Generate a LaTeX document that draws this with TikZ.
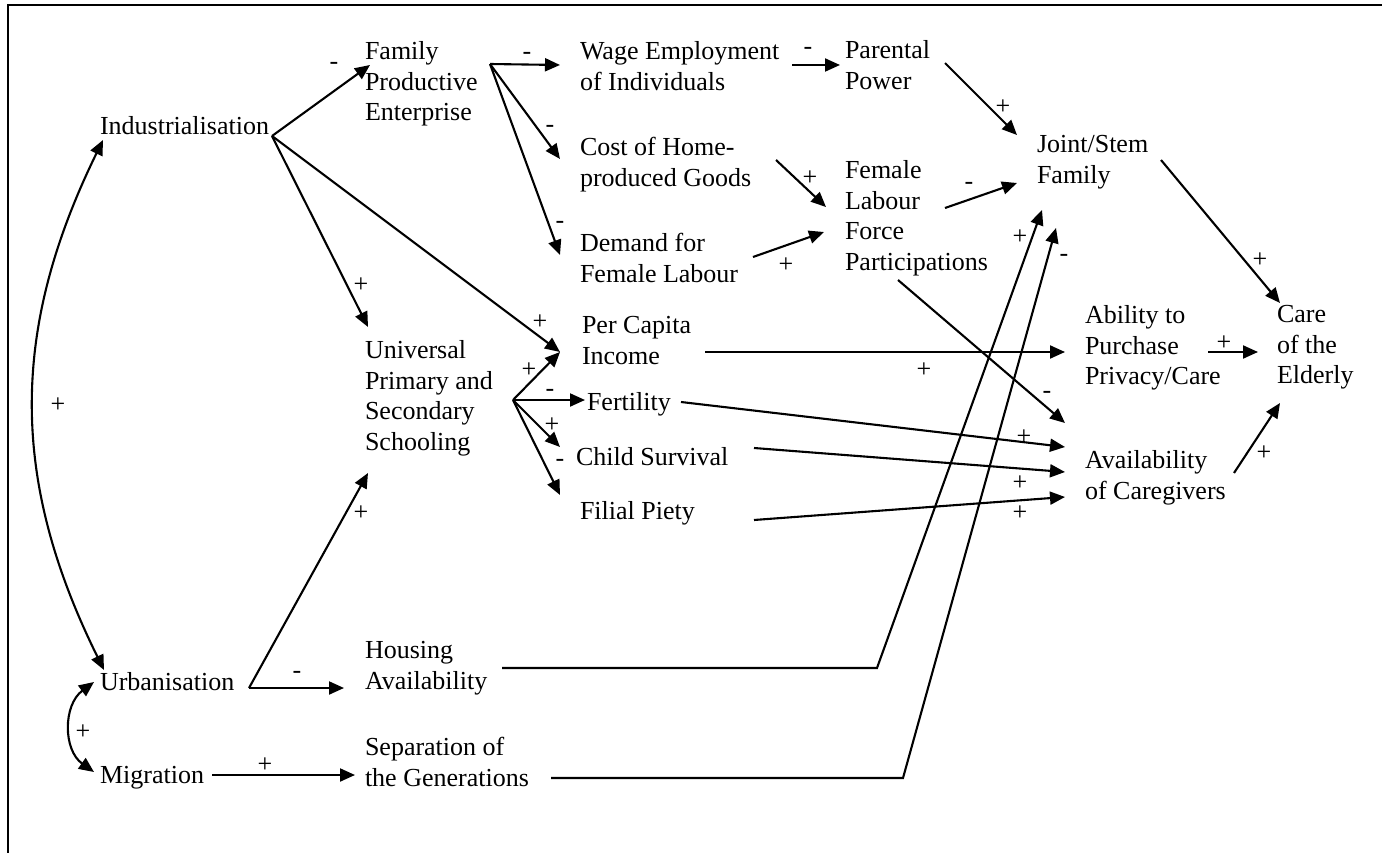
\documentclass[tikz,border=0pt]{standalone}
\usepackage{fontspec}
\setmainfont{Liberation Serif}
\usetikzlibrary{arrows.meta}
\newcommand{\dfont}{\fontsize{26}{30.5}\selectfont}
\begin{document}
\begin{tikzpicture}[x=1pt,y=-1pt,
  txt/.style={anchor=north west, yshift=21.35pt, inner sep=0pt, outer sep=0pt, align=left, font=\dfont, execute at begin node=\strut},
  sg/.style={inner sep=0pt, font=\dfont},
  arr/.style={line width=2.1pt, -{Triangle[length=15pt,width=13pt]}},
  dbl/.style={line width=2.1pt, {Triangle[length=15pt,width=13pt]}-{Triangle[length=15pt,width=13pt]}}]
\useasboundingbox (0,0) rectangle (1382,853);
\draw[line width=2pt] (8,853) -- (8,5) -- (1382,5);

% nodes
\node[txt] (ind) at (100,135) {Industrialisation};
\node[txt] (fam) at (365,63) {Family\\Productive\\Enterprise};
\node[txt] (wage) at (580,63) {Wage Employment\\of Individuals};
\node[txt] (par) at (845,62) {Parental\\Power};
\node[txt] (cost) at (580,159) {Cost of Home-\\produced Goods};
\node[txt] (dem) at (580,255) {Demand for\\Female Labour};
\node[txt] (flfp) at (845,182) {Female\\Labour\\Force\\Participations};
\node[txt] (joint) at (1037,157) {Joint/Stem\\Family};
\node[txt] (univ) at (365,362) {Universal\\Primary and\\Secondary\\Schooling};
\node[txt] (pci) at (582,338) {Per Capita\\Income};
\node[txt] (fert) at (587,410) {Fertility};
\node[txt] (child) at (576,465) {Child Survival};
\node[txt] (fil) at (580,519) {Filial Piety};
\node[txt] (abil) at (1085,327) {Ability to\\Purchase\\Privacy/Care};
\node[txt] (care) at (1277,327) {Care\\of the\\Elderly};
\node[txt] (avail) at (1085,472) {Availability\\of Caregivers};
\node[txt] (urb) at (100,690) {Urbanisation};
\node[txt] (mig) at (100,783) {Migration};
\node[txt] (house) at (365,663) {Housing\\Availability};
\node[txt] (sep) at (365,759) {Separation of\\the Generations};

% connector end points
\coordinate (ind-o) at (272,136);
\coordinate (fam-i) at (370,65);
\coordinate (univ-i1) at (368,327);
\coordinate (pci-i1) at (560,352);
\coordinate (ind-i) at (103,140);
\coordinate (urb-i) at (104,670);
\coordinate (univ-o) at (513,400);
\coordinate (fert-i) at (585,400);
\coordinate (child-i) at (560,447);
\coordinate (fil-i) at (560,495);
\coordinate (urb-o) at (249,688);
\coordinate (univ-i2) at (368,473);
\coordinate (house-i) at (344,688);
\coordinate (urb-m) at (94,682);
\coordinate (mig-u) at (94,772);
\coordinate (mig-o) at (212,775);
\coordinate (sep-i) at (355,775);
\coordinate (fam-o) at (490,64);
\coordinate (wage-i) at (560,65);
\coordinate (cost-i) at (560,159);
\coordinate (dem-i) at (560,255);
\coordinate (wage-o) at (792,65);
\coordinate (par-i) at (840,65);
\coordinate (par-o) at (945,63);
\coordinate (joint-i1) at (1017,135);
\coordinate (cost-o) at (776,160);
\coordinate (flfp-i1) at (826,207);
\coordinate (dem-o) at (753,257);
\coordinate (flfp-i2) at (824,232);
\coordinate (flfp-o1) at (945,208);
\coordinate (joint-i2) at (1017,183);
\coordinate (joint-o) at (1161,160);
\coordinate (care-i1) at (1280,303);
\coordinate (house-o) at (502,668);
\coordinate (house-k) at (877,668);
\coordinate (joint-i3) at (1042,210);
\coordinate (sep-o) at (551,778);
\coordinate (sep-k) at (903,778);
\coordinate (joint-i4) at (1056,228);
\coordinate (flfp-o2) at (898,280);
\coordinate (avail-i1) at (1065,423);
\coordinate (pci-o) at (705,352);
\coordinate (abil-i) at (1065,352);
\coordinate (abil-o) at (1208,352);
\coordinate (care-i2) at (1258,352);
\coordinate (fert-o) at (681,402);
\coordinate (avail-i2) at (1065,447);
\coordinate (child-o) at (754,448);
\coordinate (avail-i3) at (1065,472);
\coordinate (fil-o) at (754,520);
\coordinate (avail-i4) at (1065,497);
\coordinate (avail-o) at (1234,473);
\coordinate (care-i3) at (1280,403);

% connectors
\draw[arr] (ind-o) -- (fam-i);
\draw[arr] (ind-o) -- (univ-i1);
\draw[arr] (ind-o) -- (pci-i1);
\draw[dbl] (urb-i) .. controls (10,480) and (10,330) .. (ind-i);
\draw[arr] (univ-o) -- (pci-i1);
\draw[arr] (univ-o) -- (fert-i);
\draw[arr] (univ-o) -- (child-i);
\draw[arr] (univ-o) -- (fil-i);
\draw[arr] (urb-o) -- (univ-i2);
\draw[arr] (urb-o) -- (house-i);
\draw[dbl] (urb-m) .. controls (63,705) and (63,750) .. (mig-u);
\draw[arr] (mig-o) -- (sep-i);
\draw[arr] (fam-o) -- (wage-i);
\draw[arr] (fam-o) -- (cost-i);
\draw[arr] (fam-o) -- (dem-i);
\draw[arr] (wage-o) -- (par-i);
\draw[arr] (par-o) -- (joint-i1);
\draw[arr] (cost-o) -- (flfp-i1);
\draw[arr] (dem-o) -- (flfp-i2);
\draw[arr] (flfp-o1) -- (joint-i2);
\draw[arr] (joint-o) -- (care-i1);
\draw[arr] (house-o) -- (house-k) -- (joint-i3);
\draw[arr] (sep-o) -- (sep-k) -- (joint-i4);
\draw[arr] (flfp-o2) -- (avail-i1);
\draw[arr] (pci-o) -- (abil-i);
\draw[arr] (abil-o) -- (care-i2);
\draw[arr] (fert-o) -- (avail-i2);
\draw[arr] (child-o) -- (avail-i3);
\draw[arr] (fil-o) -- (avail-i4);
\draw[arr] (avail-o) -- (care-i3);

% signs
\node[sg] (s1) at (334,66) {-};
\node[sg] (s2) at (527,56) {-};
\node[sg] (s3) at (550,129) {-};
\node[sg] (s4) at (560,225) {-};
\node[sg] (s5) at (361,285) {+};
\node[sg] (s6) at (540,322) {+};
\node[sg] (s7) at (58,405) {+};
\node[sg] (s8) at (529,370) {+};
\node[sg] (s9) at (550,393) {-};
\node[sg] (s10) at (552,425) {+};
\node[sg] (s11) at (560,463) {-};
\node[sg] (s12) at (361,513) {+};
\node[sg] (s13) at (297,675) {-};
\node[sg] (s14) at (83,732) {+};
\node[sg] (s15) at (265,765) {+};
\node[sg] (s16) at (808,51) {-};
\node[sg] (s17) at (1003,107) {+};
\node[sg] (s18) at (810,178) {+};
\node[sg] (s19) at (786,265) {+};
\node[sg] (s20) at (969,186) {-};
\node[sg] (s21) at (1260,260) {+};
\node[sg] (s22) at (1020,237) {+};
\node[sg] (s23) at (1064,258) {-};
\node[sg] (s24) at (1047,395) {-};
\node[sg] (s25) at (924,370) {+};
\node[sg] (s26) at (1224,343) {+};
\node[sg] (s27) at (1024,437) {+};
\node[sg] (s28) at (1020,483) {+};
\node[sg] (s29) at (1020,513) {+};
\node[sg] (s30) at (1264,453) {+};
\end{tikzpicture}
\end{document}
